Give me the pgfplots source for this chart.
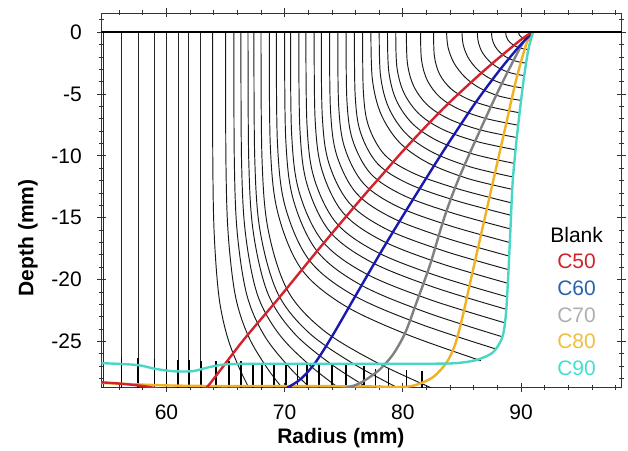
\documentclass[border=0pt]{standalone}
\usepackage{pgfplots}
\pgfplotsset{compat=1.18}
\usepackage{fontspec}
\setmainfont{Liberation Sans}
\definecolor{c50}{RGB}{210,35,45}
\definecolor{c60}{RGB}{25,25,175}
\definecolor{c70}{RGB}{128,128,128}
\definecolor{c80}{RGB}{242,176,35}
\definecolor{c90}{RGB}{72,214,198}
\definecolor{t60}{RGB}{40,100,170}
\definecolor{t70}{RGB}{175,175,175}
\definecolor{t80}{RGB}{240,190,60}
\definecolor{t90}{RGB}{64,224,208}
\newcommand\bigfont{\fontsize{21}{21}\selectfont}
\begin{document}
\begin{tikzpicture}
\useasboundingbox (-101.5pt,-63pt) rectangle (526.7pt,388pt);
\begin{axis}[
  at={(0pt,0pt)}, anchor=south west,
  scale only axis, width=520.2pt, height=375pt,
  xmin=54.5, xmax=98.5, ymin=-28.75, ymax=1.55,
  xtick={60,70,80,90}, xticklabels={60,70,80,90},
  minor xtick={56,58,62,64,66,68,72,74,76,78,82,84,86,88,92,94,96,98},
  ytick={0,-5,-10,-15,-20,-25}, yticklabels={0,-5,-10,-15,-20,-25},
  minor ytick={1,-1,-2,-3,-4,-6,-7,-8,-9,-11,-12,-13,-14,-16,-17,-18,-19,-21,-22,-23,-24,-26,-27,-28},
  tick align=center, major tick length=9pt, minor tick length=5pt,
  tick style={black!80, line width=0.8pt},
  axis line style={black!80, line width=0.8pt},
  tick label style={font=\bigfont},
  yticklabel style={anchor=east, inner sep=0pt},
  xticklabel style={anchor=north, inner sep=0pt},
  yticklabel shift=15pt, xticklabel shift=12pt,
  unbounded coords=jump,
  blk/.style={black!90, line width=0.95pt, smooth, tension=0.55},
  col/.style={line width=2.4pt, smooth, tension=0.5},
]
% straight blank lines on the left
\addplot[black!85, line width=0.95pt] coordinates {
 (54.7,0) (54.7,-28.75) (54.7,nan)
 (56.2,0) (56.2,-28.75) (56.2,nan)
 (57.6,0) (57.6,-28.75) (57.6,nan)
 (59.0,0) (59.0,-28.75) (59.0,nan)
 (60.0,0) (60.0,-28.75) (60.0,nan)
 (61.0,0) (61.0,-28.75) (61.0,nan)
 (61.9,0) (61.9,-28.75) (61.9,nan)
 (62.9,0) (62.9,-28.75)};
% bent blank lines
\addplot[blk] coordinates {(89.8,0) (89.84,-0.2) (90.1,-0.45) (90.5,-0.6) (90.85,-0.65)};
\addplot[blk] coordinates {(88.7,0) (88.74,-0.31) (88.89,-0.63) (89.18,-0.92) (89.56,-1.15) (90.07,-1.32) (90.6,-1.4)};
\addplot[blk] coordinates {(87.5,0) (87.56,-0.55) (87.79,-1.13) (88.23,-1.65) (88.81,-2.05) (89.59,-2.35) (90.4,-2.5)};
\addplot[blk] coordinates {(86.3,0) (86.38,-0.77) (86.69,-1.58) (87.28,-2.31) (88.06,-2.87) (89.11,-3.29) (90.2,-3.5)};
\addplot[blk] coordinates {(85.0,0) (85.1,-0.99) (85.51,-2.03) (86.26,-2.97) (87.27,-3.69) (88.64,-4.23) (90.05,-4.5)};
\addplot[blk] coordinates {(83.7,0) (83.82,-1.21) (84.32,-2.48) (85.25,-3.63) (86.49,-4.51) (88.16,-5.17) (89.9,-5.5)};
\addplot[blk] coordinates {(82.6,0) (82.67,-1.95) (83.1,-3.38) (84.04,-4.55) (85.48,-5.4) (87.5,-6.05) (89.8,-6.5)};
\addplot[blk] coordinates {(81.5,0) (81.58,-2.25) (82.07,-3.9) (83.13,-5.25) (84.76,-6.23) (87.04,-6.98) (89.65,-7.5)};
\addplot[blk] coordinates {(80.3,0) (80.39,-2.55) (80.95,-4.42) (82.15,-5.95) (84.0,-7.06) (86.59,-7.91) (89.55,-8.5)};
\addplot[blk] coordinates {(79.4,0) (79.5,-2.85) (80.11,-4.94) (81.42,-6.65) (83.44,-7.89) (86.27,-8.84) (89.5,-9.5)};
\addplot[blk] coordinates {(78.7,0) (78.81,-3.18) (79.45,-5.51) (80.84,-7.42) (82.98,-8.8) (85.98,-9.86) (89.4,-10.6)};
\addplot[blk] coordinates {(78.0,0) (78.11,-3.51) (78.79,-6.08) (80.26,-8.19) (82.52,-9.71) (85.68,-10.88) (89.3,-11.7)};
\addplot[blk] coordinates {(77.3,0) (77.42,-3.81) (78.14,-6.6) (79.69,-8.89) (82.08,-10.54) (85.43,-11.81) (89.25,-12.7)};
\addplot[blk] coordinates {(76.6,0) (76.66,-4.83) (77.1,-7.59) (78.49,-9.94) (81.01,-11.45) (84.79,-12.7) (89.2,-13.8)};
\addplot[blk] coordinates {(75.9,0) (75.97,-5.18) (76.43,-8.14) (77.89,-10.66) (80.54,-12.28) (84.51,-13.62) (89.15,-14.8)};
\addplot[blk] coordinates {(75.2,0) (75.27,-5.57) (75.76,-8.75) (77.29,-11.45) (80.07,-13.2) (84.24,-14.63) (89.1,-15.9)};
\addplot[blk] coordinates {(74.5,0) (74.57,-5.95) (75.08,-9.35) (76.68,-12.24) (79.59,-14.11) (83.96,-15.64) (89.05,-17.0)};
\addplot[blk] coordinates {(73.8,0) (73.88,-6.34) (74.41,-9.96) (76.08,-13.03) (79.12,-15.02) (83.68,-16.65) (89.0,-18.1)};
\addplot[blk] coordinates {(73.1,0) (73.18,-6.72) (73.73,-10.56) (75.48,-13.82) (78.65,-15.94) (83.4,-17.66) (88.95,-19.2)};
\addplot[blk] coordinates {(72.5,0) (72.58,-7.11) (73.16,-11.17) (74.96,-14.62) (78.24,-16.85) (83.16,-18.68) (88.9,-20.3)};
\addplot[blk] coordinates {(71.8,0) (71.89,-7.49) (72.48,-11.77) (74.36,-15.41) (77.77,-17.76) (82.88,-19.69) (88.85,-21.4)};
\addplot[blk] coordinates {(71.2,0) (71.29,-7.84) (71.9,-12.32) (73.83,-16.13) (77.34,-18.59) (82.61,-20.61) (88.75,-22.4)};
\addplot[blk] coordinates {(70.5,0) (70.59,-8.23) (71.23,-12.93) (73.22,-16.92) (76.85,-19.51) (82.3,-21.62) (88.65,-23.5)};
\addplot[blk] coordinates {(70.0,0) (70.09,-8.61) (70.73,-13.53) (72.75,-17.71) (76.42,-20.42) (81.93,-22.63) (88.35,-24.6)};
\addplot[blk] coordinates {(69.3,0) (69.39,-8.96) (70.04,-14.08) (72.08,-18.43) (75.79,-21.25) (81.36,-23.55) (87.85,-25.6)};
\addplot[blk] coordinates {(68.7,0) (68.79,-9.29) (69.42,-14.6) (71.39,-19.12) (74.97,-22.04) (80.34,-24.43) (86.6,-26.55)};
\addplot[blk] coordinates {(68.0,0) (68.08,-10.15) (68.6,-15.95) (70.25,-20.88) (73.25,-24.07) (77.75,-26.68) (83.0,-29.0)};
\addplot[blk] coordinates {(67.4,0) (67.47,-10.22) (67.92,-16.06) (69.37,-21.02) (71.99,-24.24) (75.92,-26.86) (80.5,-29.2)};
\addplot[blk] coordinates {(66.9,0) (66.96,-10.26) (67.34,-16.12) (68.57,-21.1) (70.79,-24.32) (74.12,-26.96) (78.0,-29.3)};
\addplot[blk] coordinates {(66.3,0) (66.35,-10.29) (66.67,-16.17) (67.68,-21.17) (69.52,-24.4) (72.28,-27.05) (75.5,-29.4)};
\addplot[blk] coordinates {(65.7,0) (65.74,-10.33) (65.99,-16.23) (66.8,-21.24) (68.26,-24.49) (70.45,-27.14) (73.0,-29.5)};
\addplot[blk] coordinates {(65.0,0) (65.03,-10.36) (65.22,-16.28) (65.83,-21.31) (66.93,-24.57) (68.58,-27.23) (70.5,-29.6)};
\addplot[blk] coordinates {(63.9,0) (63.92,-10.4) (64.04,-16.34) (64.44,-21.38) (65.16,-24.65) (66.24,-27.32) (67.5,-29.7)};
% spikes at the bottom
\addplot[black, line width=1.6pt] coordinates {
 (56.2,-26.3) (56.2,-28.75) (56.2,nan) (57.6,-26.3) (57.6,-28.75) (57.6,nan)
 (59.0,-26.4) (59.0,-28.75) (59.0,nan) (60.0,-26.5) (60.0,-28.75) (60.0,nan)
 (61.0,-26.5) (61.0,-28.75) (61.0,nan) (61.9,-26.5) (61.9,-28.75) (61.9,nan)
 (62.9,-26.6) (62.9,-28.75) (62.9,nan) (64.2,-26.6) (64.2,-28.75) (64.2,nan)
 (65.3,-26.6) (65.3,-28.75) (65.3,nan) (66.3,-26.6) (66.3,-28.75) (66.3,nan)
 (67.3,-26.7) (67.3,-28.75) (67.3,nan) (68.1,-26.7) (68.1,-28.75) (68.1,nan)
 (69.1,-26.7) (69.1,-28.75) (69.1,nan) (70.1,-26.7) (70.1,-28.75) (70.1,nan)
 (71.1,-26.7) (71.1,-28.75) (71.1,nan) (71.9,-26.8) (71.9,-28.75) (71.9,nan)
 (72.9,-26.8) (72.9,-28.75) (72.9,nan) (74.0,-26.8) (74.0,-28.75) (74.0,nan)
 (75.2,-26.9) (75.2,-28.75) (75.2,nan) (76.7,-27.0) (76.7,-28.75) (76.7,nan)
 (77.7,-27.2) (77.7,-28.75) (77.7,nan) (78.8,-27.2) (78.8,-28.75) (78.8,nan)
 (80.3,-27.3) (80.3,-28.75) (80.3,nan) (81.6,-27.4) (81.6,-28.75)};
% formed profiles
\addplot[col, c80] coordinates {(91,0) (90.5,-0.8) (89.6,-3.8) (88.6,-8.0) (87.6,-12.2) (86.7,-16.0) (85.8,-19.8) (85.0,-23.2) (84.4,-25.3) (83.7,-26.7) (82.6,-27.85) (81.3,-28.45) (80,-28.68) (77,-28.63) (70,-28.6) (64,-28.6) (60,-28.55) (57,-28.45) (54.5,-28.35)};
\addplot[col, c70] coordinates {(91,0) (90.2,-0.8) (88.3,-4.3) (86.5,-8) (84.7,-11.9) (83.5,-15.0) (82.3,-18.8) (81.1,-22) (80.2,-24.3) (79.2,-26) (78,-27.3) (76.5,-28.3) (75.2,-28.75) (73,-29.1)};
\addplot[col, c60] coordinates {(91,0) (89.8,-1.2) (88,-3.3) (86,-5.9) (83.5,-9.5) (81,-13.3) (78.5,-17.2) (76,-21.3) (74,-24.6) (72.6,-26.7) (71.4,-28) (70.2,-28.75) (69,-29.3)};
\addplot[col, c50] coordinates {(91,0) (90,-0.6) (87,-3.0) (83.6,-6.0) (80.2,-9.4) (78,-11.8) (76.8,-13.1) (73,-17.4) (69.5,-21.5) (66.5,-24.9) (63.6,-28.5) (62.5,-29.6)};
\addplot[col, c50] coordinates {(54.5,-28.3) (56,-28.4) (58,-28.6) (59.5,-28.85)};
\addplot[col, c90] coordinates {(91,0) (90.6,-1.5) (90.2,-4) (89.7,-8) (89.3,-12) (89.1,-16) (88.9,-20) (88.7,-23) (88.4,-24.7) (87.6,-25.9) (86.2,-26.5) (84.5,-26.75) (82,-26.8) (75,-26.8) (68,-26.8) (65,-26.85) (63.5,-27.1) (62.2,-27.4) (60.5,-27.4) (59,-27.2) (57.5,-26.9) (54.5,-26.75)};
% surface line
\addplot[black, line width=1.8pt] coordinates {(54.5,0) (98.5,0)};
% labels of the series
\node[font=\bigfont] at (axis cs:94.7,-16.38) {Blank};
\node[font=\bigfont, text=c50] at (axis cs:94.7,-18.54) {C50};
\node[font=\bigfont, text=t60] at (axis cs:94.7,-20.69) {C60};
\node[font=\bigfont, text=t70] at (axis cs:94.7,-22.9) {C70};
\node[font=\bigfont, text=t80] at (axis cs:94.7,-25.0) {C80};
\node[font=\bigfont, text=t90] at (axis cs:94.7,-27.15) {C90};
\end{axis}
\node[font=\bigfont\bfseries] at (239.5pt,-50pt) {Radius (mm)};
\node[font=\bigfont\bfseries, rotate=90] at (-73.5pt,150pt) {Depth (mm)};
\end{tikzpicture}
\end{document}
